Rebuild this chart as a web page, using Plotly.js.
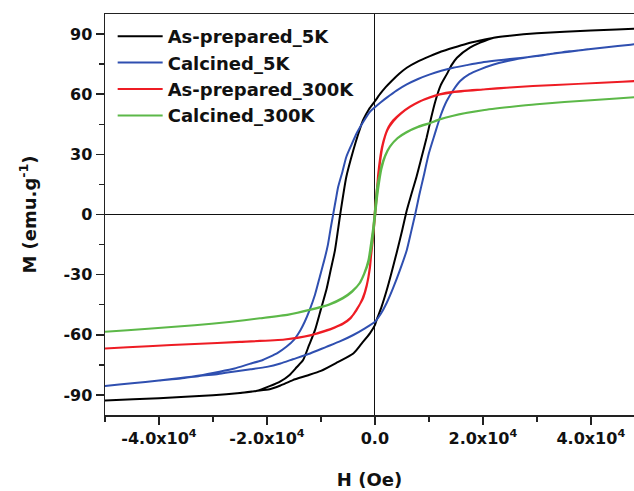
<!DOCTYPE html>
<html>
<head>
<meta charset="utf-8">
<script src="https://cdn.plot.ly/plotly-3.0.1.min.js"></script>
<style>
  html, body { margin: 0; padding: 0; background: #fff; }
  #chart { width: 634px; height: 491px; }
</style>
</head>
<body>
<div id="chart"></div>
<script>
// Hysteresis loops M(H): each loop = descending branch followed by ascending branch

// As-prepared, 5 K
const apH5_down = [50000, 40000, 30000, 25000, 22000, 19500, 17000, 14500, 12300, 10200, 8000, 5900, 4500, 3100, 2000, 930, 0, -1100, -2200, -3100, -4000, -5300, -6400, -7400, -8200, -9000, -10000, -11100, -12200, -13300, -14500, -15800, -17500, -19500, -22000, -25000, -30000, -40000, -50000];
const apM5_down = [92.8, 91.8, 90.4, 89.2, 88.2, 86.8, 85.2, 83.2, 81.3, 79.0, 76.4, 73.2, 70.2, 66.6, 63.5, 60.0, 56.5, 52.5, 47.0, 40.0, 32.0, 18.7, 0.5, -17.9, -27.8, -37.7, -47.2, -57.7, -65.2, -72.6, -76.2, -80.0, -83.2, -85.6, -88.0, -89.0, -90.2, -91.6, -92.8];
const apH5_up = [-50000, -40000, -30000, -25000, -22000, -19500, -17500, -15200, -12500, -10000, -7000, -4000, -2500, -930, 0, 300, 1200, 2200, 3100, 4000, 5000, 5900, 6800, 7700, 8600, 9600, 10400, 11200, 12200, 13300, 14200, 15200, 17600, 19500, 22000, 25000, 30000, 40000, 50000];
const apM5_up = [-92.8, -91.6, -90.2, -89.0, -88.0, -87.2, -85.3, -82.6, -80.3, -78.0, -73.8, -69.3, -64.5, -59.3, -55.2, -52.7, -46.3, -37.7, -28.8, -19.4, -8.5, 2.0, 10.5, 18.7, 28.0, 38.5, 48.0, 56.5, 64.5, 69.9, 74.5, 78.2, 83.2, 85.7, 88.2, 89.2, 90.4, 91.8, 92.8];

// Calcined, 5 K
const caH5_down = [50000, 45000, 40000, 36000, 32500, 30000, 25000, 19500, 17000, 14500, 12300, 10200, 8000, 5900, 4000, 2200, 1100, 0, -930, -2200, -3400, -4300, -5300, -6000, -6800, -7200, -7700, -8200, -8700, -9400, -10200, -11100, -12100, -13000, -13800, -15000, -16400, -18000, -19500, -21000, -23200, -26000, -28800, -32500, -36000, -40000, -45000, -50000];
const caM5_down = [85.5, 84.0, 82.5, 81.2, 80.0, 79.0, 77.5, 75.7, 74.5, 73.2, 71.7, 69.9, 67.6, 64.9, 61.8, 58.3, 56.0, 53.5, 51.2, 46.0, 40.4, 35.0, 28.7, 21.5, 13.8, 8.0, 0.5, -7.0, -15.0, -23.0, -31.0, -40.0, -47.7, -53.5, -57.7, -62.5, -66.0, -69.0, -71.0, -72.8, -74.5, -76.8, -78.4, -80.3, -81.6, -82.8, -84.2, -85.5];
const caH5_up = [-50000, -45000, -40000, -36000, -32500, -29000, -26300, -23000, -20000, -17500, -15200, -12000, -9000, -6500, -4000, -2000, 0, 1100, 2200, 3400, 4600, 5900, 6700, 7500, 8200, 9000, 10000, 11100, 12200, 13300, 14500, 15800, 17500, 19500, 22000, 25000, 28500, 32500, 36000, 40000, 45000, 50000];
const caM5_up = [-85.5, -84.2, -82.8, -81.8, -80.5, -79.5, -78.4, -77.2, -76.0, -74.3, -72.2, -69.3, -66.0, -63.3, -60.1, -57.0, -53.5, -49.5, -44.0, -36.5, -28.0, -17.8, -8.8, 0.5, 9.5, 18.7, 30.5, 40.2, 49.5, 56.6, 62.0, 66.6, 70.0, 72.4, 74.8, 76.8, 78.5, 80.0, 81.4, 82.5, 84.0, 85.5];

// As-prepared, 300 K
const apH300_down = [50000, 42000, 33400, 25000, 20000, 14500, 12000, 10200, 8200, 6500, 4800, 3400, 2500, 1900, 1300, 930, 600, 430, 200, 0, -200, -430, -700, -930, -1500, -2300, -3400, -4500, -5900, -7500, -9000, -12000, -16700, -25000, -33400, -42000, -50000];
const apM300_down = [66.8, 65.7, 64.6, 63.4, 62.4, 61.2, 60.0, 58.5, 56.3, 53.8, 50.5, 47.0, 43.5, 39.5, 33.5, 27.5, 20.0, 14.5, 8.0, 2.0, -4.5, -11.0, -19.0, -26.0, -35.0, -42.0, -47.7, -51.5, -54.3, -56.3, -57.7, -60.2, -62.3, -63.6, -64.6, -65.7, -66.8];
const apH300_up = [-50000, -42000, -33400, -25000, -16700, -12000, -9000, -7500, -5900, -4500, -3400, -2300, -1500, -930, -700, -430, -200, 0, 200, 430, 700, 930, 1500, 2300, 3400, 4800, 6500, 8200, 10200, 12000, 14500, 20000, 25000, 33400, 42000, 50000];
const apM300_up = [-66.8, -65.7, -64.6, -63.5, -62.4, -60.3, -58.0, -56.5, -54.6, -51.8, -47.4, -42.5, -35.5, -27.0, -20.5, -14.0, -7.5, -2.0, 4.5, 11.5, 19.0, 25.5, 35.0, 42.0, 46.5, 50.3, 53.6, 56.2, 58.3, 59.8, 61.0, 62.3, 63.4, 64.6, 65.7, 66.8];

// Calcined, 300 K
const caH300_down = [50000, 40000, 30000, 25000, 20000, 14500, 12000, 10200, 8000, 5900, 4200, 2800, 1900, 1200, 800, 430, 200, 0, -300, -600, -1200, -2000, -2800, -4200, -5900, -8500, -12100, -16000, -21300, -27000, -33400, -42000, -50000];
const caM300_down = [58.8, 57.0, 55.0, 53.6, 52.0, 49.3, 47.5, 45.7, 43.8, 41.2, 38.2, 34.0, 29.5, 24.0, 19.0, 14.0, 8.0, 2.0, -6.0, -12.0, -22.7, -29.5, -34.0, -38.5, -41.8, -45.0, -47.7, -50.0, -51.8, -53.6, -55.2, -57.0, -58.5];
const caH300_up = [-50000, -42000, -33400, -27000, -21300, -16000, -12100, -8500, -5900, -4200, -2800, -2000, -1200, -600, -300, 0, 300, 600, 1200, 1900, 2800, 4200, 5900, 8000, 10200, 12000, 14500, 20000, 25000, 30000, 40000, 50000];
const caM300_up = [-58.5, -57.0, -55.2, -53.6, -51.8, -49.9, -47.5, -44.8, -41.5, -38.2, -34.2, -29.8, -24.0, -16.0, -9.5, -2.0, 6.0, 12.5, 22.5, 29.0, 33.8, 38.0, 41.0, 43.6, 45.5, 47.3, 49.3, 52.0, 53.6, 55.0, 57.0, 58.8];

const seriesNames = ['As-prepared_5K', 'Calcined_5K', 'As-prepared_300K', 'Calcined_300K'];
const seriesColors = ['#000000', '#2f4fb0', '#ee1c24', '#5cb848'];

const xTickVals = [-40000, -20000, 0, 20000, 40000];
const xTickText = ['-4.0x10<sup>4</sup>', '-2.0x10<sup>4</sup>', '0.0', '2.0x10<sup>4</sup>', '4.0x10<sup>4</sup>'];
const yTickVals = [-90, -60, -30, 0, 30, 60, 90];
const yTickText = ['-90', '-60', '-30', '0', '30', '60', '90'];

const loops = [
  [apH5_down, apM5_down, apH5_up, apM5_up],
  [caH5_down, caM5_down, caH5_up, caM5_up],
  [apH300_down, apM300_down, apH300_up, apM300_up],
  [caH300_down, caM300_down, caH300_up, caM300_up]
];

const traces = loops.map((l, i) => ({
  x: l[0].concat(l[2]),
  y: l[1].concat(l[3]),
  type: 'scatter',
  mode: 'lines',
  name: seriesNames[i],
  line: { color: seriesColors[i], width: 2, shape: 'spline', smoothing: 0.6 }
}));

const FONT = 'DejaVu Sans, Arial, sans-serif';

const layout = {
  width: 634,
  height: 491,
  margin: { l: 105, r: 0, t: 14, b: 76 },
  paper_bgcolor: '#ffffff',
  plot_bgcolor: '#ffffff',
  font: { family: FONT, color: '#111', size: 16 },
  showlegend: true,
  legend: {
    x: 0.0145, y: 0.99, xanchor: 'left', yanchor: 'top',
    bgcolor: 'rgba(0,0,0,0)', borderwidth: 0,
    font: { family: FONT, size: 18, weight: 'bold', color: '#111' },
    itemwidth: 45
  },
  xaxis: {
    range: [-50000, 48000],
    showgrid: false,
    zeroline: true, zerolinecolor: '#111', zerolinewidth: 1.2,
    showline: true, mirror: true, linecolor: '#222', linewidth: 1.5,
    ticks: 'outside', ticklen: 8, tickwidth: 1.5, tickcolor: '#222',
    tickmode: 'array', tickvals: xTickVals, ticktext: xTickText,
    tickfont: { family: FONT, size: 16, weight: 'bold' },
    minor: { tickmode: 'linear', tick0: 0, dtick: 10000, ticks: 'outside', ticklen: 5, tickwidth: 1.5, tickcolor: '#222', showgrid: false },
    title: { text: 'H (Oe)', font: { family: FONT, size: 18, weight: 'bold' }, standoff: 26 }
  },
  yaxis: {
    range: [-100, 100],
    showgrid: false,
    zeroline: true, zerolinecolor: '#111', zerolinewidth: 1.2,
    showline: true, mirror: false, linecolor: '#222', linewidth: 1.5,
    ticks: 'outside', ticklen: 8, tickwidth: 1.5, tickcolor: '#222',
    tickmode: 'array', tickvals: yTickVals, ticktext: yTickText,
    tickfont: { family: FONT, size: 16, weight: 'bold' },
    minor: { tickmode: 'linear', tick0: 0, dtick: 15, ticks: 'outside', ticklen: 5, tickwidth: 1.5, tickcolor: '#222', showgrid: false },
    title: { text: 'M (emu.g<sup>-1</sup>)', font: { family: FONT, size: 18, weight: 'bold' }, standoff: 22 }
  }
};

Plotly.newPlot('chart', traces, layout, { displayModeBar: false, staticPlot: true });
</script>
</body>
</html>
